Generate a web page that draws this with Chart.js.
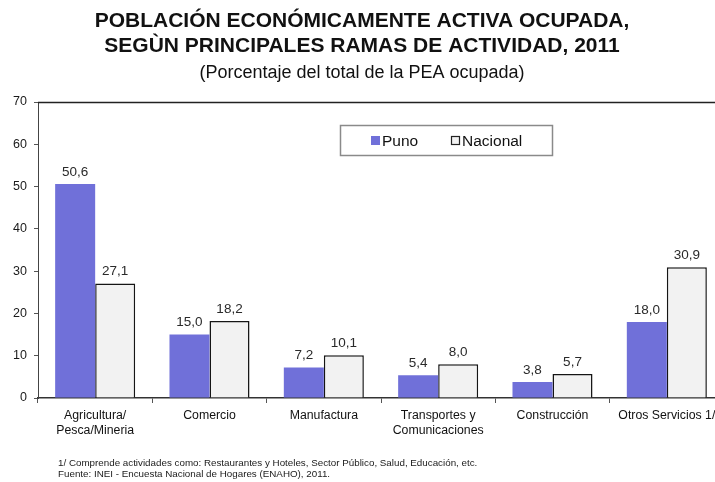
<!DOCTYPE html>
<html>
<head>
<meta charset="utf-8">
<script src="https://cdn.jsdelivr.net/npm/chart.js@4"></script>
<style>
  html, body { margin: 0; padding: 0; background: #fff; overflow: hidden; }
  #wrap { width: 715px; height: 482px; overflow: hidden; position: relative; }
  canvas { display: block; }
</style>
</head>
<body>
<div id="wrap"><canvas id="c" width="730" height="482"></canvas></div>
<script>
const categories = [
  ["Agricultura/", "Pesca/Mineria"],
  "Comercio",
  "Manufactura",
  ["Transportes y", "Comunicaciones"],
  "Construcción",
  "Otros Servicios 1/"
];
const punoValues = [50.6, 15.0, 7.2, 5.4, 3.8, 18.0];
const nacionalValues = [27.1, 18.2, 10.1, 8.0, 5.7, 30.9];
const seriesNames = ["Puno", "Nacional"];
const yTicks = [0, 10, 20, 30, 40, 50, 60, 70];
const titleLines = ["POBLACIÓN ECONÓMICAMENTE ACTIVA OCUPADA,", "SEGÙN PRINCIPALES RAMAS DE ACTIVIDAD, 2011"];
const subtitleText = "(Porcentaje del total de la PEA ocupada)";
const footnotes = [
  "1/ Comprende actividades como: Restaurantes y Hoteles, Sector Público, Salud, Educación, etc.",
  "Fuente: INEI - Encuesta Nacional de Hogares (ENAHO), 2011."
];

const FONT = '"Liberation Sans", Arial, Helvetica, sans-serif';
const fmt = v => v.toFixed(1).replace('.', ',');

const decorPlugin = {
  id: 'decor',
  afterDatasetsDraw(chart) {
    const ctx = chart.ctx;
    const a = chart.chartArea;
    ctx.save();
    // top border of plot area
    ctx.strokeStyle = '#222';
    ctx.lineWidth = 1.5;
    ctx.beginPath();
    ctx.moveTo(a.left, a.top + 0.5);
    ctx.lineTo(a.right, a.top + 0.5);
    ctx.stroke();
    // data labels
    ctx.fillStyle = '#2a2a2a';
    ctx.font = '13.5px ' + FONT;
    ctx.textAlign = 'center';
    ctx.textBaseline = 'middle';
    chart.data.datasets.forEach((ds, i) => {
      const meta = chart.getDatasetMeta(i);
      meta.data.forEach((bar, j) => {
        ctx.fillText(fmt(ds.data[j]), bar.x, bar.y - 12);
      });
    });
    // legend
    const lx = 340.5, ly = 125.5, lw = 212, lh = 30;
    ctx.fillStyle = '#fff';
    ctx.fillRect(lx, ly, lw, lh);
    ctx.strokeStyle = '#8a8a8a';
    ctx.lineWidth = 1.5;
    ctx.strokeRect(lx, ly, lw, lh);
    ctx.font = '15.5px ' + FONT;
    ctx.textAlign = 'left';
    ctx.textBaseline = 'middle';
    const cy = ly + lh / 2;
    const itemX = [371, 451];
    chart.data.datasets.forEach((ds, i) => {
      const x = itemX[i];
      ctx.fillStyle = ds.backgroundColor;
      ctx.fillRect(x, cy - 4.5, 9, 9);
      if (ds.borderWidth) {
        ctx.strokeStyle = '#222';
        ctx.lineWidth = 1.2;
        ctx.strokeRect(x + 0.5, cy - 4, 8, 8);
      }
      ctx.fillStyle = '#111';
      ctx.fillText(ds.label, x + 11, cy + 1);
    });
    // footnotes
    ctx.fillStyle = '#1a1a1a';
    ctx.font = '9.8px ' + FONT;
    ctx.textBaseline = 'middle';
    ctx.fillText(footnotes[0], 58, 463);
    ctx.fillText(footnotes[1], 58, 474);
    ctx.restore();
  }
};

new Chart(document.getElementById('c'), {
  type: 'bar',
  data: {
    labels: categories,
    datasets: [
      {
        label: seriesNames[0],
        data: punoValues,
        backgroundColor: '#7070d9',
        borderWidth: 0,
        categoryPercentage: 0.7,
        barPercentage: 1.0
      },
      {
        label: seriesNames[1],
        data: nacionalValues,
        backgroundColor: '#f2f2f2',
        borderColor: '#151515',
        borderWidth: 1.5,
        categoryPercentage: 0.7,
        barPercentage: 1.0
      }
    ]
  },
  options: {
    responsive: false,
    animation: false,
    devicePixelRatio: 1,
    layout: { padding: { left: 0, right: 6, top: 0, bottom: 0 } },
    plugins: {
      legend: { display: false },
      tooltip: { enabled: false },
      title: {
        display: true,
        text: titleLines,
        color: '#111',
        font: { family: FONT, size: 21, weight: 'bold', lineHeight: 25 / 21 },
        padding: { top: 9, bottom: 0 }
      },
      subtitle: {
        display: true,
        text: subtitleText,
        color: '#111',
        font: { family: FONT, size: 18, weight: 'normal', lineHeight: 1.2 },
        padding: { top: 3, bottom: 18.4 }
      }
    },
    scales: {
      x: {
        grid: {
          display: true,
          drawOnChartArea: false,
          drawTicks: true,
          tickLength: 5,
          color: '#555',
          offset: true
        },
        border: { display: true, color: '#333', width: 1.5 },
        ticks: {
          color: '#111',
          font: { family: FONT, size: 12.3, lineHeight: 1.22 },
          padding: 5,
          maxRotation: 0,
          autoSkip: false
        },
        afterFit(scale) { scale.height = 84; }
      },
      y: {
        min: yTicks[0],
        max: yTicks[yTicks.length - 1],
        afterBuildTicks(scale) { scale.ticks = yTicks.map(v => ({ value: v })); },
        grid: {
          display: true,
          drawOnChartArea: false,
          drawTicks: true,
          tickLength: 4,
          color: '#555'
        },
        border: { display: true, color: '#444', width: 1 },
        ticks: {
          color: '#1a1a1a',
          font: { family: FONT, size: 12.5 },
          padding: 7
        },
        afterFit(scale) { scale.width = 38; }
      }
    }
  },
  plugins: [decorPlugin]
});
</script>
</body>
</html>
